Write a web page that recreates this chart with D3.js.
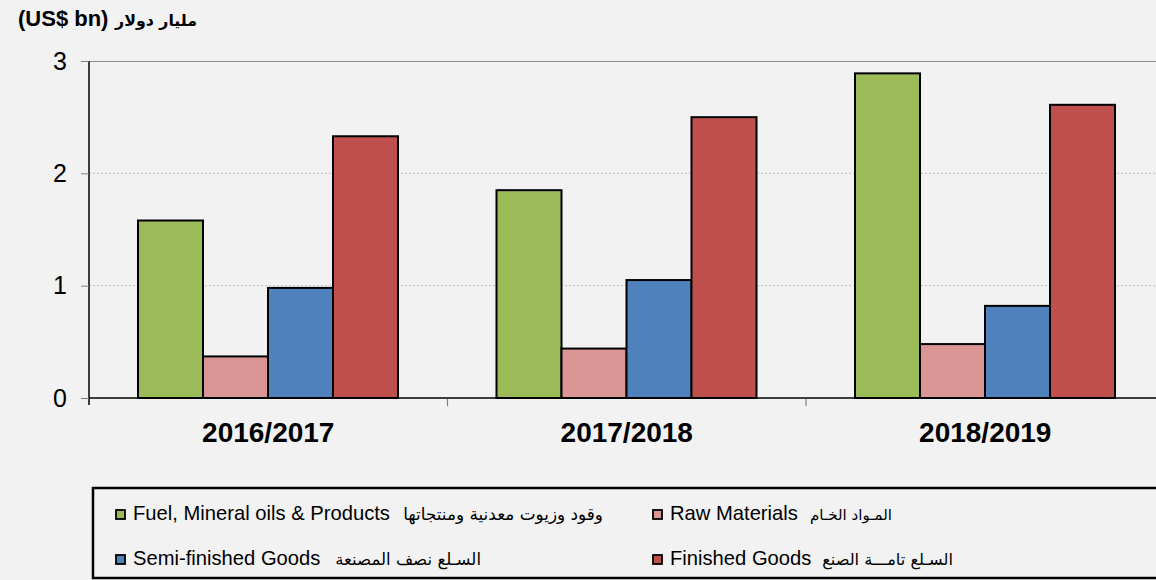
<!DOCTYPE html>
<html><head><meta charset="utf-8">
<script src="https://cdn.jsdelivr.net/npm/d3@7"></script>
<style>
html,body{margin:0;padding:0;background:#f2f2f2;}
svg{display:block;font-family:"Liberation Sans",Arial,sans-serif;}
</style></head>
<body>
<svg id="c" width="1156" height="580"></svg>
<script>
const categories = ["2016/2017","2017/2018","2018/2019"];
const seriesNames = ["Fuel","Raw","Semi","Finished"];
const fuel     = [1.58, 1.85, 2.89];
const raw      = [0.37, 0.44, 0.48];
const semi     = [0.98, 1.05, 0.82];
const finished = [2.33, 2.50, 2.61];
const yTicks = [0,1,2,3];
const colors = ["#9bbb59","#d99694","#4f81bd","#c0504d"];
const legendEn = ["Fuel, Mineral oils & Products","Raw Materials","Semi-finished Goods","Finished Goods"];
const legendAr = ["وقود وزيوت معدنية ومنتجاتها","المـواد الخـام","السـلع نصف المصنعة","السـلع تامـــة الصنع"];
const series = [fuel, raw, semi, finished];

const svg = d3.select("#c");
const x0 = d3.scaleBand().domain(categories).range([89, 1164.5]).paddingInner(0).paddingOuter(0);
const x1 = d3.scaleBand().domain(seriesNames).range([49, 358.5-49.5]);
const y = d3.scaleLinear().domain([0,3]).range([398, 61]);

// gridlines
svg.append("g").selectAll("line").data(yTicks.filter(t=>t>0 && t<3)).join("line")
  .attr("x1",89).attr("x2",1156).attr("y1",d=>y(d)).attr("y2",d=>y(d))
  .attr("stroke","#bfbfbf").attr("stroke-width",1).attr("stroke-dasharray","2,2");
svg.append("line").attr("x1",89).attr("x2",1156).attr("y1",y(3)+0.5).attr("y2",y(3)+0.5)
  .attr("stroke","#8c8c8c").attr("stroke-width",1.2);

// bars
const g = svg.append("g");
categories.forEach((c,i)=>{
  series.forEach((s,j)=>{
    g.append("rect")
      .attr("x", x0(c)+x1(seriesNames[j]))
      .attr("y", y(s[i]))
      .attr("width", x1.bandwidth())
      .attr("height", y(0)-y(s[i]))
      .attr("fill", colors[j]).attr("stroke","#000").attr("stroke-width",2);
  });
});

// y axis
const yAxis = d3.axisLeft(y).tickValues(yTicks).tickSize(8).tickPadding(14).tickFormat(d3.format("d"));
const ya = svg.append("g").attr("transform","translate(89,0)").call(yAxis);
ya.select(".domain").attr("stroke","#000").attr("stroke-width",1.5).attr("d","M0,61V405");
ya.selectAll(".tick line").attr("stroke","#808080");
ya.selectAll(".tick text").attr("font-size",25).attr("fill","#000").attr("font-family","Liberation Sans, Arial, sans-serif");

// x axis
svg.append("line").attr("x1",89).attr("x2",1156).attr("y1",398).attr("y2",398).attr("stroke","#000").attr("stroke-width",1.5);
svg.append("g").selectAll("line").data(categories.slice(1)).join("line")
  .attr("x1",d=>x0(d)).attr("x2",d=>x0(d)).attr("y1",399).attr("y2",406)
  .attr("stroke","#808080").attr("stroke-width",1.2);
svg.append("g").selectAll("text").data(categories).join("text")
  .attr("x",d=>x0(d)+x0.bandwidth()/2).attr("y",442)
  .attr("text-anchor","middle").attr("font-size",28).attr("font-weight","bold").text(d=>d);

function fitText(sel, target){
  const n = sel.node();
  const fs = parseFloat(sel.attr("font-size"));
  const w = n.getComputedTextLength();
  if (w>0) sel.attr("font-size", fs*target/w);
}

// title
svg.append("text").attr("x",18).attr("y",26).attr("font-size",22).attr("font-weight","bold").text("(US$ bn)");
const ta = svg.append("text").attr("x",197).attr("y",26).attr("font-size",18).attr("font-weight","bold")
  .attr("text-anchor","end").attr("font-family","DejaVu Sans, sans-serif").text("مليار دولار");
fitText(ta, 82);

// legend
svg.append("rect").attr("x",93).attr("y",488).attr("width",1080).attr("height",90)
  .attr("fill","none").attr("stroke","#000").attr("stroke-width",2.5);
const lpos = [[116,520],[653,520],[116,565],[653,565]];
const arEnd = [603,892,481,953];
const arW = [200,82,146,131];
legendEn.forEach((t,i)=>{
  const [lx,ly]=lpos[i];
  svg.append("rect").attr("x",lx).attr("y",ly-10).attr("width",9).attr("height",9)
    .attr("fill",colors[i]).attr("stroke","#000").attr("stroke-width",1.8);
  svg.append("text").attr("x",lx+17).attr("y",ly).attr("font-size",20.2).text(t);
  const a = svg.append("text").attr("x",arEnd[i]).attr("y",ly).attr("font-size",15)
    .attr("text-anchor","end").attr("font-family","DejaVu Sans, sans-serif").text(legendAr[i]);
  fitText(a, arW[i]);
});
</script>
</body></html>
